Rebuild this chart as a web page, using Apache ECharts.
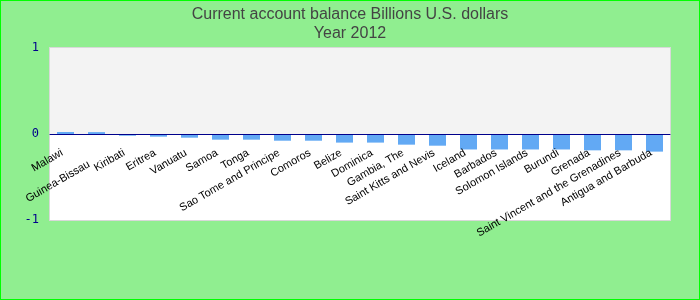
<!DOCTYPE html>
<html>
<head>
<meta charset="utf-8">
<script src="https://cdn.jsdelivr.net/npm/echarts@6/dist/echarts.min.js"></script>
<style>
html,body{margin:0;padding:0;background:#90ee90;}
#chart{width:700px;height:300px;}
</style>
</head>
<body>
<div id="chart"></div>
<script>
const titleText = "Current account balance Billions U.S. dollars\nYear 2012";
const countries = ["Malawi","Guinea-Bissau","Kiribati","Eritrea","Vanuatu","Samoa","Tonga","Sao Tome and Principe","Comoros","Belize","Dominica","Gambia, The","Saint Kitts and Nevis","Iceland","Barbados","Solomon Islands","Burundi","Grenada","Saint Vincent and the Grenadines","Antigua and Barbuda"];
const values = [0.023,0.022,-0.02,-0.031,-0.043,-0.066,-0.066,-0.078,-0.078,-0.1,-0.1,-0.124,-0.136,-0.18,-0.18,-0.18,-0.18,-0.19,-0.19,-0.205];
const yMin = -1, yMax = 1, yInterval = 1;

const gridTop = 48, gridBottom = 80, chartH = 300;
const plotH = chartH - gridTop - gridBottom;
const zeroOffset = -plotH * (0 - yMin) / (yMax - yMin);

const chart = echarts.init(document.getElementById('chart'));
chart.setOption({
  backgroundColor: '#90ee90',
  animation: false,
  title: {
    text: titleText,
    left: 'center',
    top: 0,
    textStyle: {fontFamily: 'Liberation Sans, Arial, sans-serif', fontSize: 16, fontWeight: 'normal', color: '#444', lineHeight: 19}
  },
  graphic: [{
    type: 'rect', shape: {x: 0, y: 0, width: 700, height: 300},
    style: {fill: 'none', stroke: '#00ff00', lineWidth: 2}, silent: true, z: 100
  }],
  grid: {left: 50, right: 30, top: gridTop, bottom: gridBottom, outerBoundsMode: 'none', containLabel: false, show: true, borderColor: '#d8d8d8', borderWidth: 2, backgroundColor: '#ffffff'},
  xAxis: {
    type: 'category',
    data: countries,
    offset: zeroOffset,
    axisLine: {show: true, onZero: false, lineStyle: {color: '#00008b', width: 1}},
    axisTick: {show: false},
    axisLabel: {
      interval: 0, rotate: 30, margin: 16, fontSize: 11, color: '#000',
      padding: [0, 4, 0, 0],
      fontFamily: 'Liberation Sans, Arial, sans-serif', lineHeight: 16,
      formatter: function (v, i) { return i === 1 ? '\n' + v + '   ' : v; }
    },
    z: 10
  },
  yAxis: {
    type: 'value', min: yMin, max: yMax, interval: yInterval,
    axisLine: {show: false}, axisTick: {show: false},
    splitLine: {show: false},
    splitArea: {show: true, areaStyle: {color: ['#ffffff', '#f3f3f3']}},
    axisLabel: {margin: 11, fontSize: 12, color: '#00008b', fontFamily: 'DejaVu Sans Mono, monospace'}
  },
  series: [{
    type: 'bar', data: values, barWidth: '55%',
    itemStyle: {color: '#62a9f4'}
  }]
});
</script>
</body>
</html>
